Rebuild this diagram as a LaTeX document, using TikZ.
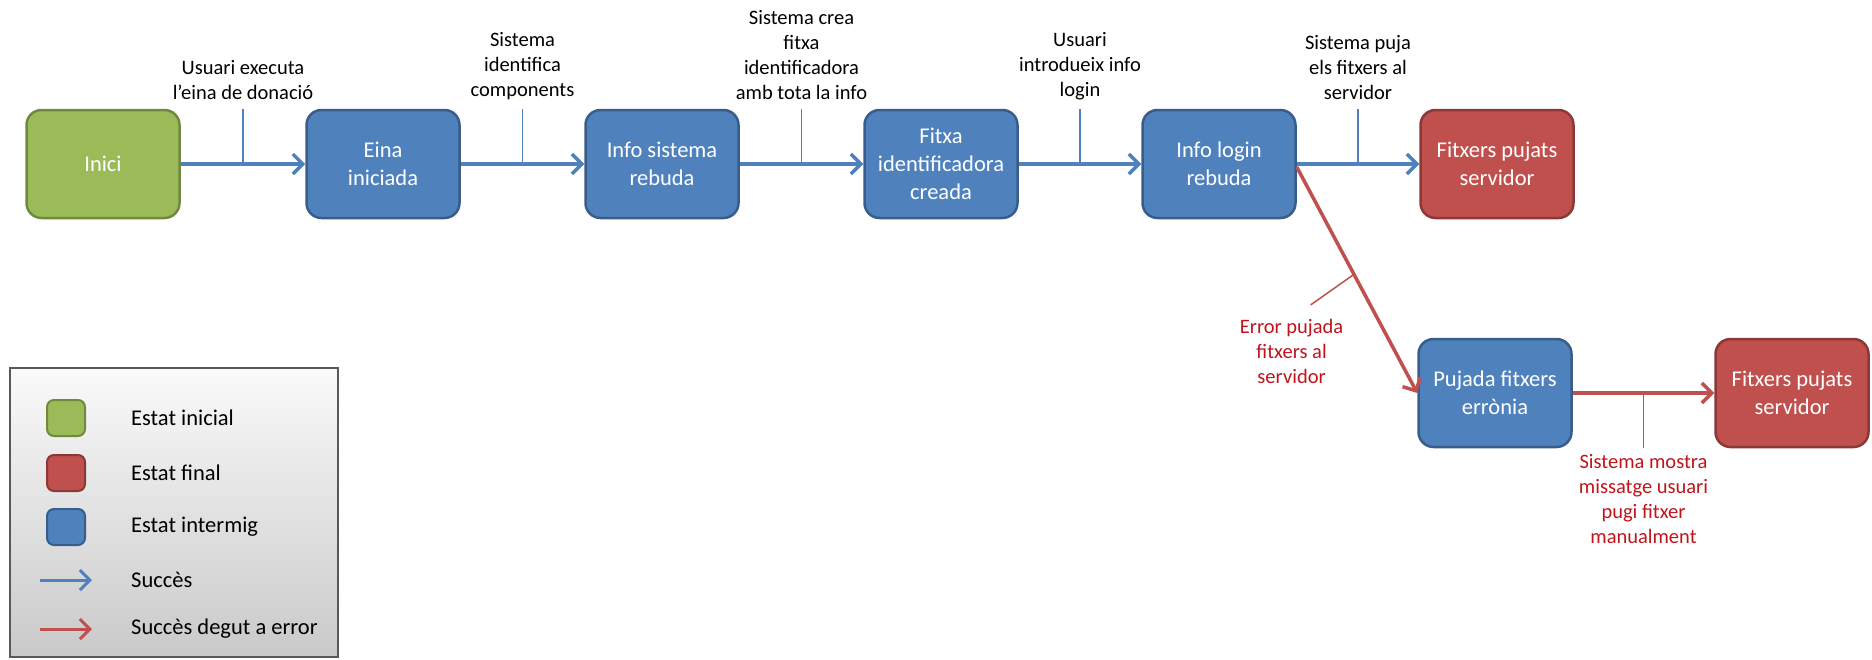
\documentclass[tikz,border=0pt]{standalone}
\usepackage{fontspec}
\setmainfont{Carlito}
\usetikzlibrary{arrows.meta,calc}
\definecolor{bfill}{HTML}{4F81BD}
\definecolor{bdraw}{HTML}{385D8A}
\definecolor{gfill}{HTML}{9BBB59}
\definecolor{gdraw}{HTML}{71893F}
\definecolor{rfill}{HTML}{C0504D}
\definecolor{rdraw}{HTML}{8C3836}
\definecolor{redtext}{HTML}{C0141C}
\begin{document}
\begin{tikzpicture}[x=1pt,y=-1pt,
  state/.style={rounded corners=15pt, minimum width=153pt, minimum height=108pt,
    align=center, text=white, font=\fontsize{22.5}{28}\selectfont, line width=2.5pt, inner sep=2pt},
  bstate/.style={state, fill=bfill, draw=bdraw},
  gstate/.style={state, fill=gfill, draw=gdraw},
  rstate/.style={state, fill=rfill, draw=rdraw},
  lab/.style={align=center, font=\fontsize{20.5}{25}\selectfont, inner sep=0pt},
  rlab/.style={lab, text=redtext},
  ok/.style={draw=bfill, line width=3.5pt, -{Straight Barb[length=10pt,width=20pt]}},
  err/.style={draw=rfill, line width=3.5pt, -{Straight Barb[length=10pt,width=20pt]}},
  tickb/.style={draw=bfill, line width=1.5pt},
  tickr/.style={draw=rfill, line width=1.5pt},
  legsq/.style={minimum width=38pt, minimum height=36pt, rounded corners=7pt, line width=2pt},
  legtext/.style={anchor=west, font=\fontsize{22.5}{26}\selectfont, inner sep=0pt},
  legbox/.style={draw=black!65, line width=1.5pt, top color=black!2, bottom color=black!21}
]
\useasboundingbox (0,0) rectangle (1872,659);

% states
\node[gstate] (inici) at (103,164) {Inici};
\node[bstate] (eina) at (383,164) {Eina\\iniciada};
\node[bstate] (sist) at (662,164) {Info sistema\\rebuda};
\node[bstate] (fitxa) at (941,164) {Fitxa\\identificadora\\creada};
\node[bstate] (login) at (1219,164) {Info login\\rebuda};
\node[rstate] (pujats) at (1497,164) {Fitxers pujats\\servidor};
\node[bstate] (erronia) at (1495,393) {Pujada fitxers\\errònia};
\node[rstate] (pujats2) at (1792,393) {Fitxers pujats\\servidor};

% success arrows
\draw[ok] (inici) -- (eina);
\draw[ok] (eina) -- (sist);
\draw[ok] (sist) -- (fitxa);
\draw[ok] (fitxa) -- (login);
\draw[ok] (login) -- (pujats);

% ticks and labels
\coordinate (t1) at ($(inici.east)!0.5!(eina.west)$);
\coordinate (t2) at ($(eina.east)!0.5!(sist.west)$);
\coordinate (t3) at ($(sist.east)!0.5!(fitxa.west)$);
\coordinate (t4) at ($(fitxa.east)!0.5!(login.west)$);
\coordinate (t5) at ($(login.east)!0.5!(pujats.west)$);
\foreach \t in {t1,t2,t3,t4,t5}{
  \draw[tickb] (\t) -- (\t |- inici.north);
}
\node[lab, anchor=south] (l1) at ($(t1 |- inici.north)+(0,-9)$) {Usuari executa\\l’eina de donació};
\node[lab, anchor=south] (l2) at ($(t2 |- inici.north)+(0,-9)$) {Sistema\\identifica\\components};
\node[lab, anchor=south] (l3) at ($(t3 |- inici.north)+(0,-9)$) {Sistema crea\\fitxa\\identificadora\\amb tota la info};
\node[lab, anchor=south] (l4) at ($(t4 |- inici.north)+(0,-9)$) {Usuari\\introdueix info\\login};
\node[lab, anchor=south] (l5) at ($(t5 |- inici.north)+(0,-9)$) {Sistema puja\\els fitxers al\\servidor};

% error path
\draw[err] ($(login.east)+(0,3)$) -- (erronia.west);
\coordinate (t6) at ($(login.east)!0.48!(erronia.west)$);
\coordinate (t6e) at ($(t6)+(-44,31)$);
\draw[tickr] (t6) -- (t6e);
\node[rlab, anchor=north] (l6) at ($(t6e)+(-19,14)$) {Error pujada\\fitxers al\\servidor};

\draw[err] (erronia) -- (pujats2);
\coordinate (t7) at ($(erronia.east)!0.5!(pujats2.west)$);
\draw[tickr] (t7) -- (t7 |- erronia.south);
\node[rlab, anchor=north] (l7) at ($(t7 |- erronia.south)+(0,6)$) {Sistema mostra\\missatge usuari\\pugi fitxer\\manualment};

% legend
\draw[legbox] (10,368) rectangle (338,657);
\node[gstate, legsq] (lg1) at (66,418) {};
\node[rstate, legsq] (lg2) at (66,473) {};
\node[bstate, legsq] (lg3) at (66,527) {};
\coordinate (la4) at (40,580);
\coordinate (lb4) at (92,580);
\coordinate (la5) at (40,629);
\coordinate (lb5) at (92,629);
\draw[ok, line width=3pt] (la4) -- (lb4);
\draw[err, line width=3pt] (la5) -- (lb5);
\node[legtext] (lt1) at (131,418) {Estat inicial};
\node[legtext] (lt2) at (131,473) {Estat final};
\node[legtext] (lt3) at (131,527) {Estat intermig};
\node[legtext] (lt4) at (131,580) {Succès};
\node[legtext] (lt5) at (131,629) {Succès degut a error};
\end{tikzpicture}
\end{document}
